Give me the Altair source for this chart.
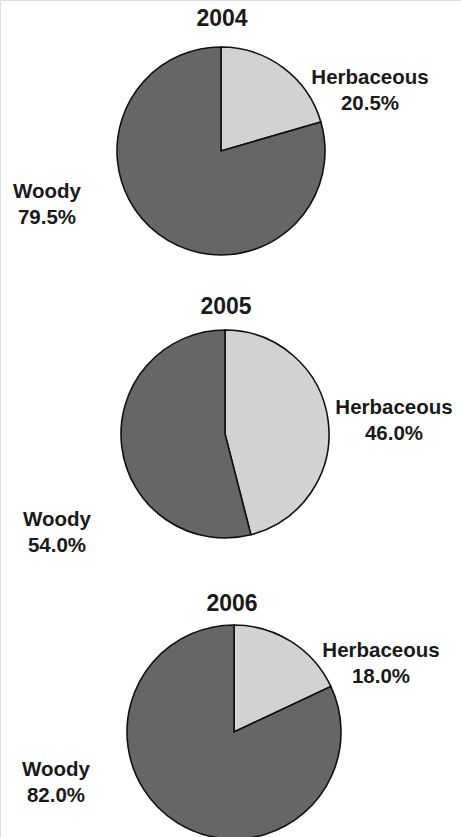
import altair as alt
import pandas as pd

years = ["2004", "2005", "2006"]
categories = ["Herbaceous", "Woody"]
herbaceous = [20.5, 46.0, 18.0]
woody = [79.5, 54.0, 82.0]

# layout (pixels): first-line centres of label blocks
centers = [(221, 151, 104), (225, 434, 104), (234, 732, 107)]
title_pos = [(222, 19), (226, 307), (232, 604)]
herb_pos = [(370, 78), (394, 408), (381, 651)]
woody_pos = [(47, 192), (57, 520), (56, 770)]

rows = []
for y, h, w in zip(years, herbaceous, woody):
    rows.append({"year": y, "category": "Herbaceous", "value": h,
                 "label": f"Herbaceous\n{h:.1f}%"})
    rows.append({"year": y, "category": "Woody", "value": w,
                 "label": f"Woody\n{w:.1f}%"})
df = pd.DataFrame(rows)

FONT = "Liberation Sans"
color = alt.Color("category:N",
                  scale=alt.Scale(domain=categories, range=["#d2d2d2", "#666666"]),
                  legend=None)

layers = []
for i, yr in enumerate(years):
    cx, cy, r = centers[i]
    base = alt.Chart(df).transform_filter(alt.datum.year == yr)
    arc = base.mark_arc(radius=r, stroke="#111111", strokeWidth=1.6).encode(
        theta=alt.Theta("value:Q", stack=True),
        color=color,
        order=alt.Order("category:N", sort="ascending"),
        x=alt.value(cx), y=alt.value(cy),
    )
    title = base.transform_filter(alt.datum.category == "Herbaceous").mark_text(
        font=FONT, fontWeight="bold", fontSize=23, color="#1a1a1a",
        align="center", baseline="middle",
    ).encode(text="year:N", x=alt.value(title_pos[i][0]), y=alt.value(title_pos[i][1]))
    hl = base.transform_filter(alt.datum.category == "Herbaceous").mark_text(
        font=FONT, fontWeight="bold", fontSize=20.5, color="#1a1a1a",
        align="center", baseline="middle", lineBreak="\n", lineHeight=26,
    ).encode(text="label:N", x=alt.value(herb_pos[i][0]), y=alt.value(herb_pos[i][1]))
    wl = base.transform_filter(alt.datum.category == "Woody").mark_text(
        font=FONT, fontWeight="bold", fontSize=20.5, color="#1a1a1a",
        align="center", baseline="middle", lineBreak="\n", lineHeight=26,
    ).encode(text="label:N", x=alt.value(woody_pos[i][0]), y=alt.value(woody_pos[i][1]))
    layers += [arc, title, hl, wl]

chart = alt.layer(*layers).properties(
    width=461, height=837,
    autosize=alt.AutoSizeParams(type="none"),
    padding=0,
).configure_view(stroke=None).configure(background="white")

chart.save("out.html", embed_options={"renderer": "svg", "actions": False})
